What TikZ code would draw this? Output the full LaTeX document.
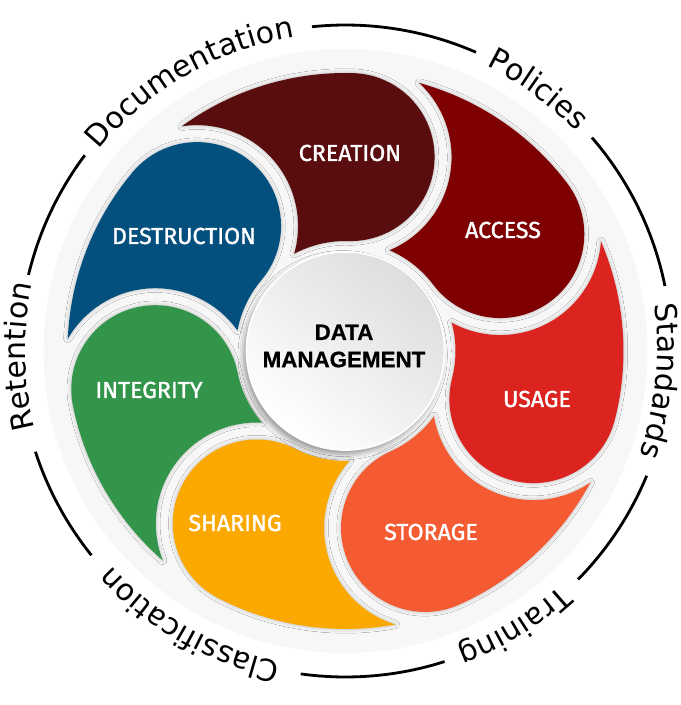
\documentclass[tikz,border=0pt]{standalone}
\usepackage{fontspec}
\usetikzlibrary{decorations.text,shadows.blur}
\newfontfamily\ringfont{DejaVu Sans}
\newfontfamily\petalfont{Fira Sans}[FakeBold=1.4]
\newfontfamily\hubfont{Liberation Sans}[BoldFeatures={FakeBold=0.8}]
\newcommand\ringfmt{\ringfont\fontsize{21.3}{25}\selectfont}
\definecolor{creation}{HTML}{5A0D0F}
\definecolor{access}{HTML}{7E0000}
\definecolor{usage}{HTML}{DB2420}
\definecolor{storage}{HTML}{F55B33}
\definecolor{sharing}{HTML}{FBA900}
\definecolor{integrity}{HTML}{33954A}
\definecolor{destruction}{HTML}{034F7E}
\definecolor{discgrey}{HTML}{F7F7F7}
\tikzset
{
    disc/.style = {fill=discgrey},
    ring/.style = {line width=2pt, draw=black},
    ringtext/.style = {decorate, decoration={text along path, text align=center}},
    petal/.style = {blur shadow={shadow xshift=0pt, shadow yshift=0pt, shadow blur radius=3pt, shadow opacity=25}},
    petallabel/.style = {text=white, font=\petalfont\fontsize{16.5}{19}\selectfont},
    hub/.style = {circle, minimum size=4.95cm, draw=white, line width=1.2pt, top color=black!13, bottom color=white, shading angle=-40, blur shadow={shadow xshift=-2pt, shadow yshift=-3pt, shadow blur radius=4pt, shadow opacity=40}},
    hublabel/.style = {align=center, font=\hubfont\bfseries\fontsize{15.9}{19.4}\selectfont}
}

\begin{document}
\begin{tikzpicture}[x=0.025cm, y=0.025cm]
\useasboundingbox[fill=white] (-345.5,-354) rectangle (334.5,351);
\fill[disc] (0,0) circle[radius=302];
\foreach \from/\to in {95.9/66.4, 40.9/11.5, -22.5/-44.5, -72.3/-97.9, -141.2/-162, 166.5/143.1}
{
	\draw[ring] (\from:326) arc[start angle=\from, end angle=\to, radius=326];
}
\path[ringtext, decoration={text={|\ringfmt|Documentation}}] (170:318) arc[start angle=170, end angle=70, radius=318];
\path[ringtext, decoration={text={|\ringfmt|Policies}}] (103.6:318) arc[start angle=103.6, end angle=3.6, radius=318];
\path[ringtext, decoration={text={|\ringfmt|Standards}}] (44.5:312) arc[start angle=44.5, end angle=-55.5, radius=312];
\path[ringtext, decoration={text={|\ringfmt|Training}}] (-8.4:318) arc[start angle=-8.4, end angle=-108.4, radius=318];
\path[ringtext, decoration={text={|\ringfmt|Classification}}] (-69.6:318) arc[start angle=-69.6, end angle=-169.6, radius=318];
\path[ringtext, decoration={text={|\ringfmt|Retention}}] (231:320) arc[start angle=231, end angle=131, radius=320];
\foreach \turn/\hue in {88.5/creation, 37.07/access, -14.36/usage, -65.79/storage, -117.21/sharing, -168.64/integrity, -220.07/destruction}
{
	\begin{scope}[rotate=\turn-90]
		\fill[petal, fill=\hue] (127.55:278) arc[start angle=127.55, end angle=90, radius=278]
			arc[start angle=90, end angle=-90, radius=84]
			arc[start angle=90, end angle=119.29, radius=110]
			arc[start angle=-14.34, end angle=100.13, radius=101] -- cycle;
	\end{scope}
}
\node[petallabel] (creation) at (4.5,198) {CREATION};
\node[petallabel] (access) at (157.5,121) {ACCESS};
\node[petallabel] (usage) at (191.5,-48) {USAGE};
\node[petallabel] (storage) at (85.5,-181) {STORAGE};
\node[petallabel] (sharing) at (-110.5,-172) {SHARING};
\node[petallabel] (integrity) at (-196.5,-39) {INTEGRITY};
\node[petallabel] (destruction) at (-161.5,115) {DESTRUCTION};
\node[hub] (hub) at (0,0) {};
\node[hublabel] (hubtext) at (-1.5,5) {DATA\\MANAGEMENT};
\end{tikzpicture}
\end{document}
